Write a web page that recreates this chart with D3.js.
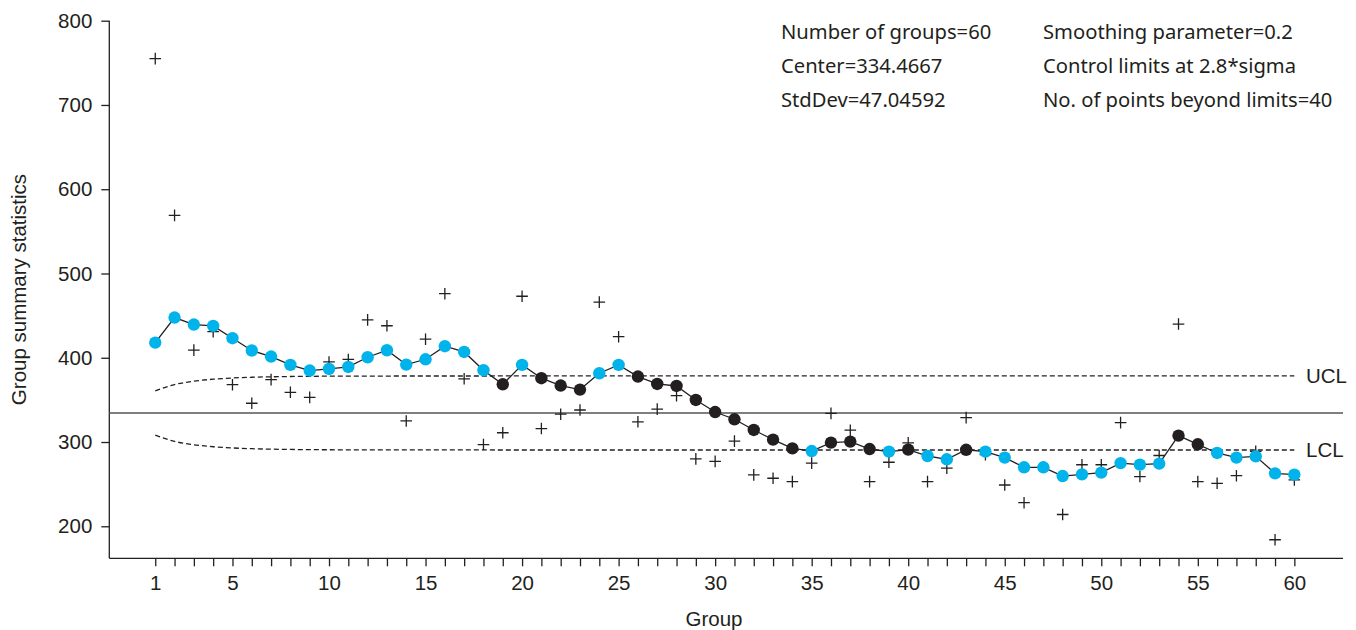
<!DOCTYPE html>
<html>
<head>
<meta charset="utf-8">
<script src="https://cdn.jsdelivr.net/npm/d3@7"></script>
<style>
	body { margin: 0; background: #fff; }
	svg { display: block; }
	.axis text { font-family: "Liberation Sans", Arial, sans-serif; font-size: 20.5px; fill: #231f20; }
	.axis path, .axis line { stroke: #231f20; stroke-width: 1.3; }
	.stats { font-family: "Noto Sans", sans-serif; font-size: 20.2px; fill: #231f20; }
	.lab { font-family: "Liberation Sans", Arial, sans-serif; font-size: 20.5px; fill: #231f20; }
</style>
</head>
<body>
<div id="vis"></div>
<script>
const groups = d3.range(1, 61);

// raw group values (crosses)
const groupValues = [
	755, 569, 409, 431, 368, 346, 374, 359, 353, 395,
	398, 445, 438, 325, 422, 476, 375, 297, 311, 473,
	316, 333, 338, 466, 425, 324, 339, 355, 280, 277,
	301, 261, 257, 253, 275, 334, 314, 253, 276, 299,
	253, 269, 329, 285, 249, 228, 270, 214, 273, 273,
	323, 259, 284, 440, 253, 251, 260, 289, 184, 255
];

// EWMA statistic (dots)
const ewmaValues = [
	418.0, 447.7, 439.4, 437.8, 423.2, 408.6, 401.4, 391.5, 384.8, 386.7,
	389.1, 400.6, 408.9, 391.9, 398.2, 413.7, 406.9, 385.2, 368.5, 391.5,
	375.7, 367.0, 362.2, 381.6, 391.5, 377.7, 368.9, 366.5, 349.9, 335.6,
	327.0, 314.3, 302.8, 292.5, 289.3, 299.3, 300.5, 291.7, 288.6, 291.0,
	283.4, 279.5, 290.8, 288.6, 281.5, 270.0, 270.0, 259.6, 261.6, 263.7,
	275.0, 273.2, 274.3, 307.6, 297.3, 287.0, 281.5, 283.0, 262.8, 261.3
];

const uclValues = [
	360.81, 368.21, 372.19, 374.53, 375.96, 376.85, 377.40, 377.76, 377.98, 378.13,
	378.21, 378.27, 378.31, 378.33, 378.35, 378.36, 378.37, 378.37, 378.38, 378.38,
	378.38, 378.38, 378.38, 378.38, 378.38, 378.38, 378.38, 378.38, 378.38, 378.38,
	378.38, 378.38, 378.38, 378.38, 378.38, 378.38, 378.38, 378.38, 378.38, 378.38,
	378.38, 378.38, 378.38, 378.38, 378.38, 378.38, 378.38, 378.38, 378.38, 378.38,
	378.38, 378.38, 378.38, 378.38, 378.38, 378.38, 378.38, 378.38, 378.38, 378.38
];
const lclValues = [
	308.12, 300.72, 296.74, 294.40, 292.97, 292.08, 291.53, 291.17, 290.95, 290.80,
	290.72, 290.66, 290.62, 290.60, 290.58, 290.57, 290.56, 290.56, 290.55, 290.55,
	290.55, 290.55, 290.55, 290.55, 290.55, 290.55, 290.55, 290.55, 290.55, 290.55,
	290.55, 290.55, 290.55, 290.55, 290.55, 290.55, 290.55, 290.55, 290.55, 290.55,
	290.55, 290.55, 290.55, 290.55, 290.55, 290.55, 290.55, 290.55, 290.55, 290.55,
	290.55, 290.55, 290.55, 290.55, 290.55, 290.55, 290.55, 290.55, 290.55, 290.55
];
const center = 334.4667;

const yTicks = [200, 300, 400, 500, 600, 700, 800];
const xTickLabels = [1, 5, 10, 15, 20, 25, 30, 35, 40, 45, 50, 55, 60];

const statsLeft = ["Number of groups=60", "Center=334.4667", "StdDev=47.04592"];
const statsRight = ["Smoothing parameter=0.2", "Control limits at 2.8*sigma", "No. of points beyond limits=40"];

const W = 1356, H = 630;
const margin = { top: 20.7, right: 13, bottom: 71.7, left: 109.3 };

const svg = d3.select("#vis").append("svg")
	.attr("width", W)
	.attr("height", H);

const x = d3.scaleLinear().domain([-1.38, 62.52]).range([margin.left, W - margin.right]);
const y = d3.scaleLinear().domain([162, 800]).range([H - margin.bottom, margin.top]);

// axes
const yAxis = svg.append("g")
	.attr("class", "axis")
	.attr("transform", `translate(${margin.left},0)`)
	.call(d3.axisLeft(y).tickValues(yTicks).tickSize(8).tickPadding(9).tickSizeOuter(0));
yAxis.select(".domain").attr("d", `M0,${y(800)}V${H - margin.bottom}`);

const xAxis = svg.append("g")
	.attr("class", "axis")
	.attr("transform", `translate(0,${H - margin.bottom})`)
	.call(d3.axisBottom(x).tickValues(groups).tickSize(8).tickPadding(9).tickSizeOuter(0)
		.tickFormat(d => xTickLabels.includes(d) ? d : ""));
xAxis.select(".domain").attr("d", `M${margin.left},0H${W - margin.right}`);

// center line
svg.append("line")
	.attr("x1", margin.left).attr("x2", W - margin.right)
	.attr("y1", y(center)).attr("y2", y(center))
	.attr("stroke", "#555").attr("stroke-width", 1.6);

// control limits
const limLine = d3.line()
	.x((d, i) => x(groups[i]))
	.y(d => y(d))
	.curve(d3.curveMonotoneX);

[uclValues, lclValues].forEach(arr => {
	svg.append("path")
		.attr("d", limLine(arr))
		.attr("fill", "none")
		.attr("stroke", "#231f20")
		.attr("stroke-width", 1.3)
		.attr("stroke-dasharray", "5,3");
});

svg.append("text").attr("class", "lab")
	.attr("x", 1306).attr("y", y(uclValues[59])).attr("dy", "0.36em").text("UCL");
svg.append("text").attr("class", "lab")
	.attr("x", 1306).attr("y", y(lclValues[59])).attr("dy", "0.36em").text("LCL");

// crosses
const cs = 5.8;
svg.append("g").selectAll("path")
	.data(groupValues)
	.join("path")
	.attr("d", (d, i) => {
		const cx = x(groups[i]), cy = y(d);
		return `M${cx - cs},${cy}H${cx + cs}M${cx},${cy - cs}V${cy + cs}`;
	})
	.attr("stroke", "#231f20")
	.attr("stroke-width", 1.3);

// ewma line
svg.append("path")
	.attr("d", d3.line().x((d, i) => x(groups[i])).y(d => y(d))(ewmaValues))
	.attr("fill", "none")
	.attr("stroke", "#231f20")
	.attr("stroke-width", 1.3);

svg.append("g").selectAll("circle")
	.data(ewmaValues)
	.join("circle")
	.attr("cx", (d, i) => x(groups[i]))
	.attr("cy", d => y(d))
	.attr("r", 6.2)
	.attr("fill", (d, i) => (d > uclValues[i] || d < lclValues[i]) ? "#00b4eb" : "#231f20");

// axis titles
svg.append("text").attr("class", "lab")
	.attr("text-anchor", "middle")
	.attr("transform", `translate(26,${(margin.top + H - margin.bottom) / 2}) rotate(-90)`)
	.text("Group summary statistics");

svg.append("text").attr("class", "lab")
	.attr("text-anchor", "middle")
	.attr("x", 714).attr("y", 626)
	.text("Group");

// stats block
statsLeft.forEach((t, i) => {
	svg.append("text").attr("class", "stats")
		.attr("x", 781).attr("y", 39 + i * 34).text(t);
});
statsRight.forEach((t, i) => {
	svg.append("text").attr("class", "stats")
		.attr("x", 1043).attr("y", 39 + i * 34).text(t);
});
</script>
</body>
</html>
